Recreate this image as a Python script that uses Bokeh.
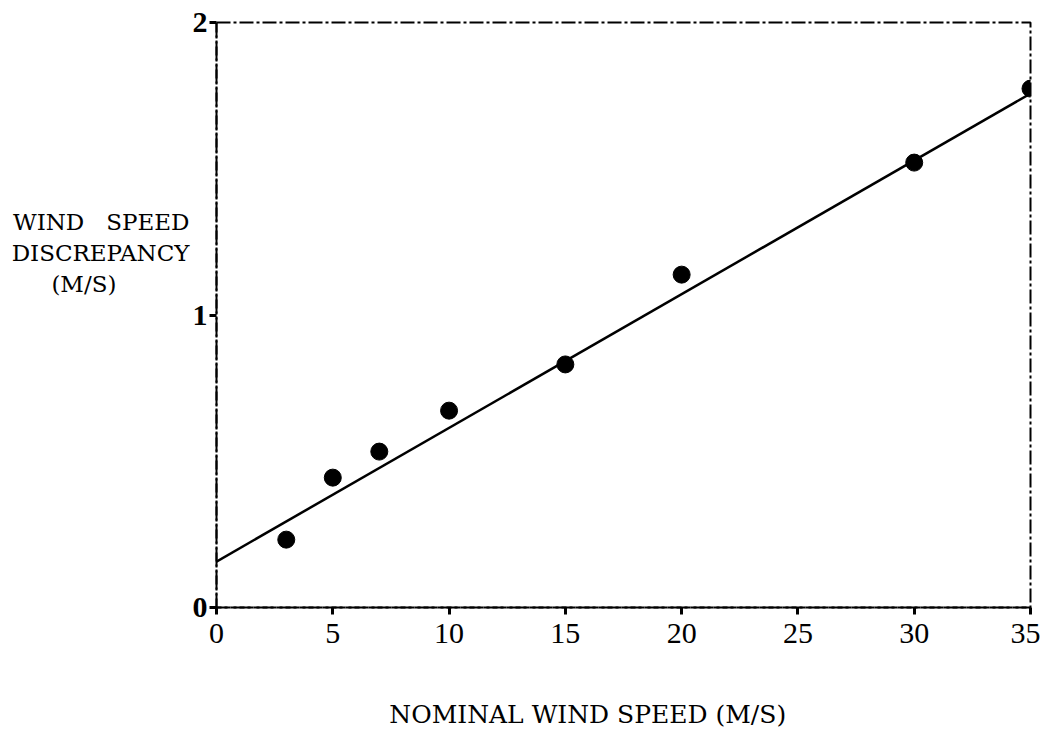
from bokeh.plotting import figure
from bokeh.models import Range1d, FixedTicker
from bokeh.embed import file_html
from bokeh.resources import INLINE

# data
wind_speed = [3, 5, 7, 10, 15, 20, 30, 35]
discrepancy = [0.232, 0.444, 0.533, 0.673, 0.831, 1.138, 1.521, 1.774]
fit_x = [0, 35]
fit_y = [0.157, 1.757]
x_ticks = [0, 5, 10, 15, 20, 25, 30, 35]
y_ticks = [0, 1, 2]

SERIF = "DejaVu Serif"
TICKFONT = "Liberation Serif"
NB = "\u00a0"

p = figure(width=1040, height=731, output_backend="svg", toolbar_location=None,
           x_range=Range1d(0, 35), y_range=Range1d(0, 2),
           min_border_left=216, min_border_right=10, min_border_top=22,
           min_border_bottom=124)
p.grid.visible = False
p.background_fill_color = "white"
p.border_fill_color = "white"
p.outline_line_color = "black"
p.outline_line_width = 2
p.outline_line_dash = "14 3 3 3"

p.xaxis.ticker = FixedTicker(ticks=x_ticks)
p.yaxis.ticker = FixedTicker(ticks=y_ticks)
for ax in (p.xaxis[0], p.yaxis[0]):
    ax.axis_line_color = "black"
    ax.axis_line_width = 2
    ax.axis_line_dash = "14 3 3 3"
    ax.major_tick_line_color = "black"
    ax.major_tick_line_width = 3
    ax.major_tick_out = 7
    ax.major_tick_in = 0
    ax.minor_tick_line_color = None
    ax.major_label_text_font = TICKFONT
    ax.major_label_text_font_size = "30px"
    ax.major_label_text_color = "black"
p.xaxis.major_label_standoff = 9
p.yaxis.major_label_standoff = 2
p.yaxis.major_label_text_font_style = "bold"

p.yaxis.axis_label = ("WIND" + NB * 3 + "SPEED" + "\nDISCREPANCY\n(M/S)" + NB * 10
                      + "\n\n\n\n")
p.yaxis.axis_label_orientation = "horizontal"
p.yaxis.axis_label_text_font = SERIF
p.yaxis.axis_label_text_font_size = "23px"
p.yaxis.axis_label_text_line_height = 1.19
p.yaxis.axis_label_text_font_style = "normal"
p.yaxis.axis_label_text_color = "black"
p.yaxis.axis_label_standoff = 0

p.xaxis.axis_label = "NOMINAL WIND SPEED (M/S)" + NB * 9
p.xaxis.axis_label_text_font = SERIF
p.xaxis.axis_label_text_font_size = "25px"
p.xaxis.axis_label_text_font_style = "normal"
p.xaxis.axis_label_text_color = "black"
p.xaxis.axis_label_standoff = 54

p.line(fit_x, fit_y, line_color="black", line_width=2.5)
p.scatter(wind_speed, discrepancy, size=17, color="black")

open("out.html", "w").write(file_html(p, INLINE))
